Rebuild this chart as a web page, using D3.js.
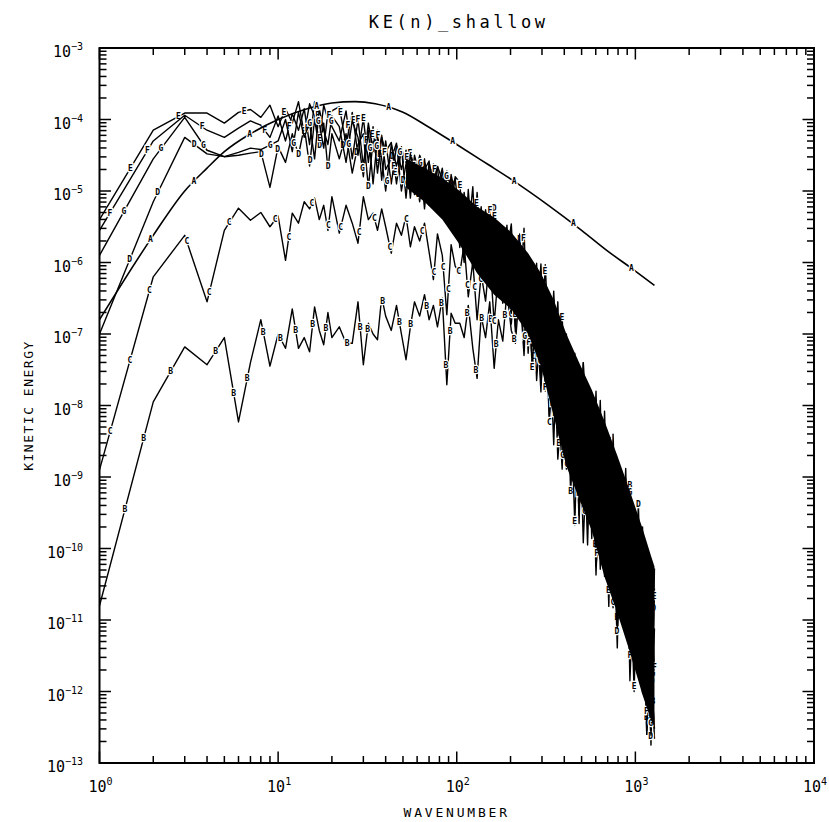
<!DOCTYPE html>
<html>
<head>
<meta charset="utf-8">
<script src="https://cdn.jsdelivr.net/npm/d3@7"></script>
<style>
  html, body { margin: 0; padding: 0; background: #fff; }
  svg { display: block; }
  text { font-family: "DejaVu Sans Mono", "Liberation Mono", monospace; fill: #000; }
</style>
</head>
<body>
<svg id="chart" width="829" height="822"></svg>
<script>
// wavenumbers shared by the six spectra (values below are log10 of KE)
const wavenumbers = [
  1, 2, 3, 4, 5, 6, 7, 8, 9, 10, 11, 12, 13, 14, 15, 16, 17, 18, 19, 20,
  22, 24, 26, 28, 30, 32, 34, 36, 38, 40,
  43, 46, 49, 52, 55, 58, 62, 66, 70, 74, 78, 83, 88, 93, 98,
  104, 110, 116, 123, 130, 137, 145, 153, 162, 171, 181, 191, 202, 213, 225, 238, 251, 265, 280, 296,
  313, 330, 349, 368, 389, 411, 434, 458, 484, 511, 540, 570, 602, 636, 672, 710, 750, 792, 836, 883,
  932, 984, 1039, 1097, 1158, 1223, 1279
];

const logKeB = [
  -10.80, -7.95, -7.18, -7.43, -7.05, -8.23, -7.40, -6.80, -7.45, -7.00, -7.20, -6.65, -7.20, -7.05, -7.25, -6.62, -6.95, -7.15, -6.70, -7.05,
  -6.90, -7.13, -7.13, -6.55, -7.43, -6.85, -7.00, -7.08, -6.48, -6.75,
  -6.95, -6.60, -7.00, -7.36, -6.90, -6.55, -6.75, -6.45, -6.80, -6.60, -6.90, -6.50, -7.71, -6.71, -6.85,
  -6.85, -7.05, -6.60, -7.20, -7.62, -6.75, -7.05, -6.55, -7.48, -6.80, -7.10, -6.40, -6.95, -7.13, -6.35, -7.30, -6.15, -7.17, -6.70, -7.81,
  -6.33, -7.83, -7.05, -8.75, -7.97, -7.35, -9.21, -8.11, -8.94, -7.40, -9.59, -8.51, -10.25, -9.50, -8.35, -10.27, -9.62, -11.12, -9.25, -10.65,
  -9.05, -11.72, -10.79, -10.28, -12.60, -11.47, -12.66
];

const logKeC = [
  -8.90, -6.20, -5.62, -6.55, -5.55, -5.24, -5.41, -5.30, -5.50, -5.35, -5.97, -5.31, -5.45, -5.15, -5.25, -5.10, -5.40, -5.20, -5.55, -5.08,
  -5.59, -5.20, -5.45, -5.73, -5.08, -5.40, -5.31, -5.55, -5.25, -5.50,
  -5.87, -5.45, -5.62, -5.35, -5.78, -5.50, -5.70, -5.45, -5.85, -6.24, -5.60, -5.90, -6.73, -5.75, -6.05,
  -6.15, -5.74, -6.48, -5.99, -6.80, -6.16, -6.54, -5.89, -6.85, -6.13, -6.57, -5.72, -6.86, -6.21, -5.75, -6.76, -6.31, -7.50, -6.18, -7.15,
  -6.72, -8.25, -6.51, -8.09, -7.63, -8.89, -7.25, -8.47, -7.75, -9.92, -8.37, -9.24, -7.80, -10.03, -9.30, -8.63, -10.83, -9.23, -10.63, -9.02,
  -11.85, -10.32, -9.79, -11.87, -10.58, -11.75, -12.52
];

const logKeD = [
  -7.00, -5.15, -4.25, -4.48, -4.52, -4.50, -4.47, -4.45, -4.95, -4.38, -4.60, -4.20, -4.50, -4.10, -4.65, -4.00, -4.40, -4.05, -4.70, -4.20,
  -4.55, -4.20, -4.75, -4.35, -4.20, -4.95, -4.30, -4.60, -4.22, -4.70,
  -4.55, -4.33, -5.00, -4.62, -4.45, -4.70, -5.15, -4.60, -4.85, -4.65, -5.30, -4.72, -4.98, -4.80, -5.45,
  -5.15, -5.91, -5.42, -6.08, -5.70, -5.22, -6.03, -5.72, -5.25, -6.29, -5.52, -6.28, -6.01, -6.97, -5.68, -6.45, -7.03, -6.16, -7.65, -6.77,
  -6.33, -8.14, -7.48, -6.55, -8.43, -7.71, -8.47, -7.51, -9.65, -7.52, -9.46, -8.88, -8.41, -10.29, -8.08, -10.03, -9.35, -11.39, -8.98, -10.38,
  -9.89, -11.44, -9.37, -11.44, -11.02, -12.75, -10.28
];

const logKeE = [
  -5.40, -4.15, -3.91, -3.91, -4.05, -3.90, -3.86, -3.97, -3.80, -4.10, -3.85, -4.05, -3.75, -4.20, -3.78, -3.95, -4.30, -3.80, -4.00, -3.88,
  -3.82, -4.35, -3.90, -4.50, -3.98, -4.60, -4.10, -4.75, -4.25, -4.45,
  -4.32, -4.90, -4.40, -4.60, -4.45, -5.05, -4.50, -4.70, -4.58, -5.15, -4.65, -4.85, -4.72, -5.25, -4.80,
  -4.88, -5.74, -5.16, -5.99, -5.02, -5.82, -5.43, -6.22, -5.33, -6.13, -5.68, -6.52, -5.62, -6.90, -5.60, -6.60, -6.23, -7.50, -6.09, -7.43,
  -6.03, -7.31, -6.83, -8.42, -6.72, -8.42, -7.86, -9.67, -7.51, -9.08, -8.01, -9.86, -7.92, -9.37, -8.90, -10.81, -8.40, -10.17, -9.11, -11.06,
  -10.17, -12.00, -9.65, -11.58, -10.44, -12.47, -10.56
];

const logKeF = [
  -5.55, -4.30, -3.94, -4.15, -4.25, -4.12, -4.02, -4.08, -4.25, -3.95, -4.30, -3.92, -4.15, -3.85, -4.35, -3.75, -4.05, -4.40, -3.90, -4.10,
  -4.30, -3.88, -4.55, -4.00, -4.65, -4.05, -4.45, -4.15, -4.85, -4.30,
  -4.90, -4.36, -4.70, -4.43, -5.10, -4.50, -4.80, -4.55, -5.20, -4.62, -4.95, -4.68, -5.30, -4.77, -5.05,
  -5.79, -5.02, -5.60, -4.94, -6.12, -5.30, -5.94, -5.21, -6.17, -5.63, -6.00, -5.48, -6.71, -5.83, -6.58, -5.52, -7.27, -6.25, -6.87, -6.02,
  -7.80, -6.89, -8.55, -6.77, -8.09, -7.00, -8.84, -7.75, -9.53, -7.40, -8.74, -8.02, -10.37, -8.72, -9.98, -8.49, -10.70, -9.09, -10.35, -8.88,
  -11.57, -10.18, -11.49, -9.70, -12.60, -10.76, -11.68
];

const logKeG = [
  -5.90, -4.55, -3.97, -4.43, -4.52, -4.46, -4.40, -4.42, -4.36, -4.30, -4.00, -4.45, -3.90, -4.25, -4.05, -4.55, -3.85, -4.15, -4.35, -3.95,
  -4.10, -4.60, -4.02, -4.25, -4.80, -4.15, -4.90, -4.25, -4.55, -5.00,
  -4.35, -4.65, -4.38, -5.10, -4.48, -4.75, -4.52, -5.25, -4.60, -4.88, -4.66, -5.35, -4.75, -4.95, -4.83,
  -5.43, -6.00, -4.98, -5.82, -5.44, -6.08, -5.26, -5.80, -6.26, -5.47, -6.17, -5.88, -5.46, -6.59, -6.20, -7.22, -5.99, -6.83, -6.01, -7.71,
  -6.82, -7.72, -6.40, -7.76, -8.89, -7.35, -8.10, -7.27, -9.17, -8.12, -9.95, -7.90, -9.39, -7.93, -10.39, -9.45, -8.81, -11.12, -9.53, -10.78,
  -9.19, -10.88, -9.94, -12.02, -10.01, -12.61, -11.12
];

// smooth reference spectrum (curve A)
const smoothWavenumbers = [1, 2, 3, 4, 5, 7, 10, 15, 20, 27, 35, 50, 67, 100, 150, 200, 326, 500, 691, 1000, 1279];
const logKeA = [-6.80, -5.62, -5.00, -4.68, -4.45, -4.20, -4.00, -3.84, -3.77, -3.75, -3.78, -3.90, -4.08, -4.35, -4.63, -4.83, -5.20, -5.55, -5.83, -6.12, -6.32];

// where the overlapping spectra merge into a solid black band
const coreWavenumbers = [52, 66, 83, 104, 130, 162, 202, 251, 296, 349, 411, 484, 570, 672, 792, 932, 1097, 1223, 1279];
const coreTopLog = [-4.55, -4.68, -4.82, -5.00, -5.22, -5.37, -5.58, -5.87, -6.15, -6.52, -7.00, -7.40, -7.78, -8.22, -8.70, -9.20, -9.72, -10.10, -10.25];
const coreBottomLog = [-4.95, -5.15, -5.40, -5.75, -6.15, -6.45, -6.65, -7.00, -7.45, -8.15, -8.85, -9.30, -9.75, -10.40, -10.90, -11.45, -12.05, -12.40, -12.50];

const xTickExponents = [0, 1, 2, 3, 4];
const yTickExponents = [-13, -12, -11, -10, -9, -8, -7, -6, -5, -4, -3];

const noisySeries = [
  { letter: "B", values: logKeB, offset: 100 },
  { letter: "C", values: logKeC, offset: 40 },
  { letter: "D", values: logKeD, offset: 80 },
  { letter: "E", values: logKeE, offset: 60 },
  { letter: "F", values: logKeF, offset: 20 },
  { letter: "G", values: logKeG, offset: 50 },
];

const plot = { left: 99.5, right: 814, top: 48, bottom: 763 };
const svg = d3.select("#chart");

const x = d3.scaleLog().domain([1, 1e4]).range([plot.left, plot.right]);
const y = d3.scaleLog().domain([1e-13, 1e-3]).range([plot.bottom, plot.top]);

const toPoints = (ns, logs) => ns.map((n, i) => ({ n, ke: Math.pow(10, logs[i]) }));

const line = d3.line().x((d) => x(d.n)).y((d) => y(d.ke));
const smoothLine = d3.line().x((d) => x(d.n)).y((d) => y(d.ke)).curve(d3.curveMonotoneX);

// curve letters every `gap` px along each line, as the plotting package does
function addLabels(g, pathNode, letter, gap, start) {
  const total = pathNode.getTotalLength();
  for (let l = start; l < total; l += gap) {
    const p = pathNode.getPointAtLength(l);
    g.append("text")
      .attr("x", p.x)
      .attr("y", p.y)
      .attr("text-anchor", "middle")
      .attr("dominant-baseline", "central")
      .attr("font-size", 8)
      .attr("font-weight", "bold")
      .attr("stroke", "#fff")
      .attr("stroke-width", 2.5)
      .attr("paint-order", "stroke")
      .text(letter);
  }
}

const plotArea = svg.append("g");

noisySeries.forEach((s) => {
  const g = plotArea.append("g");
  const path = g.append("path")
    .datum(toPoints(wavenumbers, s.values))
    .attr("d", line)
    .attr("fill", "none")
    .attr("stroke", "#000")
    .attr("stroke-width", 1.4)
    .attr("stroke-linejoin", "round");
  addLabels(g, path.node(), s.letter, 73, s.offset);
});

// solid core of the overlapping spectra
const core = coreWavenumbers.map((n, i) => ({
  n,
  top: Math.pow(10, coreTopLog[i]),
  bottom: Math.pow(10, coreBottomLog[i]),
}));
plotArea.append("path")
  .datum(core)
  .attr("d", d3.area().x((d) => x(d.n)).y0((d) => y(d.bottom)).y1((d) => y(d.top)))
  .attr("fill", "#000");

const gA = plotArea.append("g");
const pathA = gA.append("path")
  .datum(toPoints(smoothWavenumbers, logKeA))
  .attr("d", smoothLine)
  .attr("fill", "none")
  .attr("stroke", "#000")
  .attr("stroke-width", 1.6);
addLabels(gA, pathA.node(), "A", 73, 95);

// frame and ticks
const axes = svg.append("g").attr("stroke", "#000");
axes.append("rect")
  .attr("x", plot.left)
  .attr("y", plot.top)
  .attr("width", plot.right - plot.left)
  .attr("height", plot.bottom - plot.top)
  .attr("fill", "none")
  .attr("stroke-width", 2);

const isMajor = (t) => Math.abs(Math.log10(t) - Math.round(Math.log10(t))) < 1e-6;
const tickLen = (t) => (isMajor(t) ? 11.5 : 7);

x.ticks(40).forEach((t) => {
  const px = x(t);
  axes.append("line").attr("x1", px).attr("x2", px)
    .attr("y1", plot.bottom).attr("y2", plot.bottom - tickLen(t)).attr("stroke-width", 1.5);
  axes.append("line").attr("x1", px).attr("x2", px)
    .attr("y1", plot.top).attr("y2", plot.top + tickLen(t)).attr("stroke-width", 1.5);
});
y.ticks(40).forEach((t) => {
  const py = y(t);
  axes.append("line").attr("y1", py).attr("y2", py)
    .attr("x1", plot.left).attr("x2", plot.left + tickLen(t)).attr("stroke-width", 1.5);
  axes.append("line").attr("y1", py).attr("y2", py)
    .attr("x1", plot.right).attr("x2", plot.right - tickLen(t)).attr("stroke-width", 1.5);
});

function powerLabel(sel, exp) {
  sel.append("tspan").attr("font-size", 15).text("10");
  sel.append("tspan").attr("font-size", 10).attr("dy", -7)
    .text(exp < 0 ? "\u2212" + Math.abs(exp) : String(exp));
}

xTickExponents.forEach((e) => {
  const t = svg.append("text")
    .attr("x", x(Math.pow(10, e)) + 1)
    .attr("y", 792)
    .attr("text-anchor", "middle");
  powerLabel(t, e);
});
yTickExponents.forEach((e) => {
  const t = svg.append("text")
    .attr("x", 83)
    .attr("y", y(Math.pow(10, e)) + 9)
    .attr("text-anchor", "end");
  powerLabel(t, e);
});

svg.append("text")
  .attr("x", (plot.left + plot.right) / 2 + 2)
  .attr("y", 28)
  .attr("text-anchor", "middle")
  .attr("font-size", 17)
  .attr("letter-spacing", 3.6)
  .text("KE(n)_shallow");

svg.append("text")
  .attr("x", (plot.left + plot.right) / 2)
  .attr("y", 817)
  .attr("text-anchor", "middle")
  .attr("font-size", 13)
  .attr("letter-spacing", 2.8)
  .text("WAVENUMBER");

svg.append("text")
  .attr("transform", `translate(33, ${(plot.top + plot.bottom) / 2}) rotate(-90)`)
  .attr("text-anchor", "middle")
  .attr("font-size", 13)
  .attr("letter-spacing", 1.5)
  .text("KINETIC ENERGY");
</script>
</body>
</html>
